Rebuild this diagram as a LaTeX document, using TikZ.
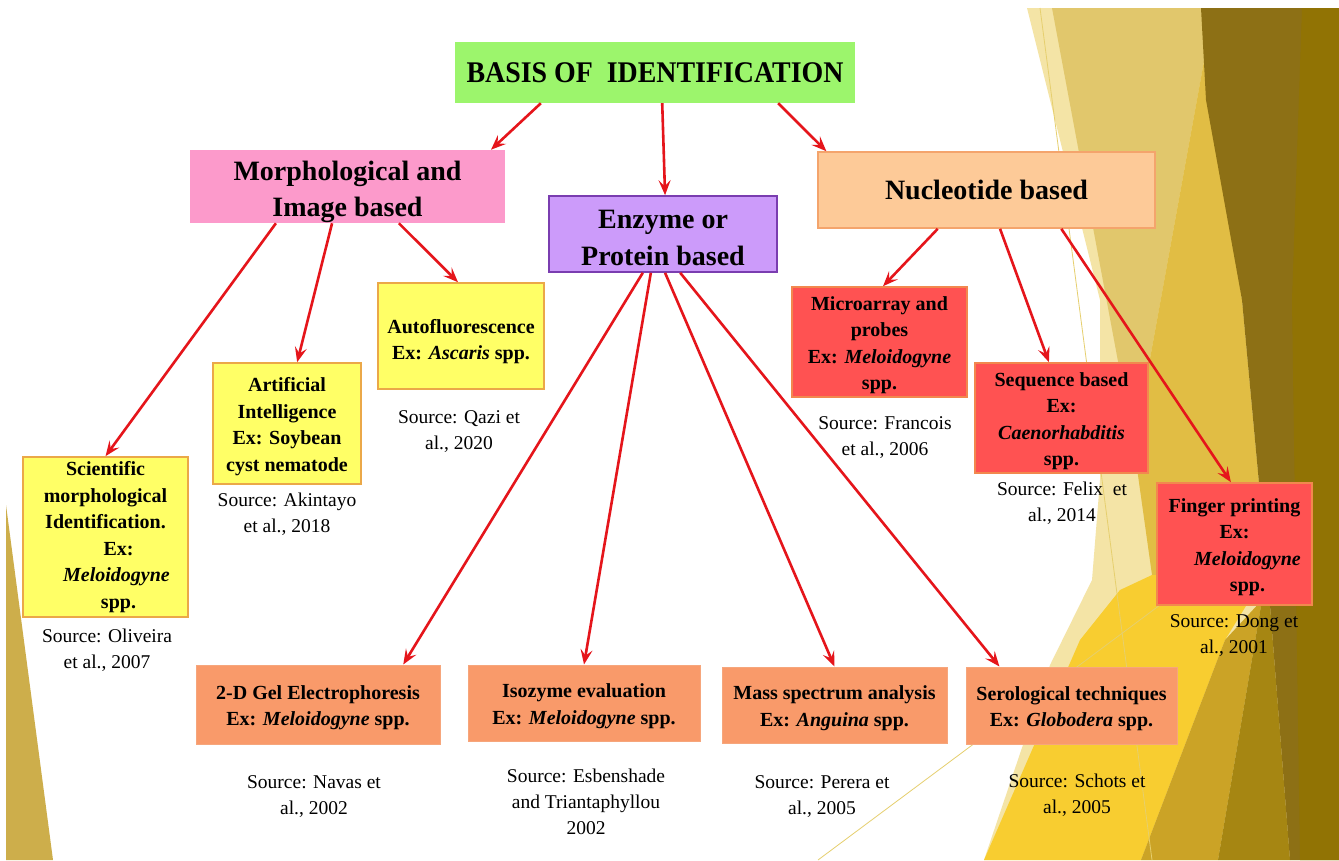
\documentclass[tikz,border=0pt]{standalone}
\usepackage{fontspec}
\setmainfont{Liberation Serif}
\usetikzlibrary{calc,arrows.meta}
\definecolor{tgreen}{HTML}{9CF56C}
\definecolor{tpink}{HTML}{FC9ACB}
\definecolor{tpurple}{HTML}{CC9BFA}
\definecolor{tpurpleE}{HTML}{7A3DB0}
\definecolor{tpeach}{HTML}{FDCA98}
\definecolor{tpeachE}{HTML}{F4A46C}
\definecolor{tyellow}{HTML}{FFFF66}
\definecolor{tyellowE}{HTML}{EBA848}
\definecolor{tred}{HTML}{FF5252}
\definecolor{tredE}{HTML}{F2884E}
\definecolor{torange}{HTML}{F99A6A}
\definecolor{torangeE}{HTML}{F6A67C}
\definecolor{tarrow}{HTML}{E5151B}
\definecolor{bgpale}{HTML}{F4E4A6}
\definecolor{bgtan}{HTML}{E1C76C}
\definecolor{bgyel}{HTML}{E1BD44}
\definecolor{bgbright}{HTML}{F8CD30}
\definecolor{bggold}{HTML}{CBA326}
\definecolor{bgdarker}{HTML}{A68612}
\definecolor{bgdark}{HTML}{8D7015}
\definecolor{bgdarkest}{HTML}{917304}
\definecolor{bgleft}{HTML}{CDAE4B}
\definecolor{bgline}{HTML}{E6CF6E}
\newcommand{\FirstStrut}[1][1em]{\rule{0pt}{#1}}
\begin{document}
\begin{tikzpicture}[x=1pt,y=-1pt,
  bx/.style={rectangle, inner sep=0pt, align=center, text=black,
    font=\fontsize{20}{26.5}\selectfont\bfseries},
  ybox/.style={bx, fill=tyellow, draw=tyellowE, line width=1.6pt},
  rbox/.style={bx, fill=tred, draw=tredE, line width=1.6pt},
  obox/.style={bx, fill=torange, draw=torangeE, line width=1pt},
  lvl/.style={rectangle, inner sep=0pt, align=center, text=black,
    font=\fontsize{28}{36}\selectfont\bfseries},
  src/.style={align=center, inner sep=0pt, text=black,
    font=\fontsize{19.5}{26}\selectfont},
  arr/.style={draw=tarrow, line width=2.6pt,
    -{Stealth[length=15pt,width=12pt,inset=6pt]}}
]
\useasboundingbox (0,0) rectangle (1339,860);
\fill[white] (0,0) rectangle (1339,860);

% background facets
\fill[bgpale] (1027,8) -- (1339,8) -- (1339,860) -- (984,860) -- (1050,665)
  -- (1092,580) -- (1100,480) -- (1100,300) -- cycle;
\fill[bgtan] (1052,8) -- (1201,8) -- (1206,50) -- (1134,447) -- cycle;
\fill[bgyel] (1206,50) -- (1242,300) -- (1268,580) -- (1152,575) -- (1134,447) -- cycle;
\fill[bgbright] (984,860) -- (1141,860) -- (1225,640) -- (1265,575) -- (1152,575)
  -- (1120,590) -- (1080,640) -- cycle;
\fill[bggold] (1141,860) -- (1218,860) -- (1262,600) -- (1225,640) -- cycle;
\fill[bgdarker] (1218,860) -- (1290,860) -- (1268,580) -- (1262,600) -- cycle;
\fill[bgdark] (1201,8) -- (1339,8) -- (1339,860) -- (1290,860) -- (1268,580)
  -- (1242,300) -- (1206,100) -- cycle;
\fill[bgdarkest] (1302,8) -- (1339,8) -- (1339,860) -- (1300,860) -- (1292,300) -- cycle;
\draw[bgline, line width=0.8pt] (1040,8) -- (1152,860);
\draw[bgline, line width=0.8pt] (818,860) -- (1160,605);
\fill[bgleft] (6,505) -- (53,860) -- (6,860) -- cycle;

% top
\node[lvl, fill=tgreen, minimum width=400pt, minimum height=61pt,
  font=\fontsize{30}{36}\selectfont\bfseries] (title) at (655,72.5)
  {\scalebox{0.93}[1]{BASIS OF\ \ IDENTIFICATION}};

% level 1
\node[lvl, fill=tpink, minimum width=315pt, minimum height=73pt] (morph) at (347.5,186.5)
  {\FirstStrut[31pt]Morphological and\\Image based};
\node[lvl, fill=tpurple, draw=tpurpleE, line width=1.6pt, minimum width=228pt,
  minimum height=76pt, font=\fontsize{28}{37}\selectfont\bfseries] (enz) at (663,234)
  {\FirstStrut[27pt]Enzyme or\\Protein based};
\node[lvl, fill=tpeach, draw=tpeachE, line width=1.6pt, minimum width=337pt,
  minimum height=76pt] (nuc) at (986.5,190) {Nucleotide based};

% level 2, morphological
\node[ybox, minimum width=165pt, minimum height=160pt] (sci) at (105.5,537)
  {Scientific\\morphological\\Identification.\\\hspace*{26pt}Ex:\\
   \hspace*{22pt}\textit{Meloidogyne}\\\hspace*{26pt}spp.};
\node[ybox, minimum width=148pt, minimum height=121pt] (ai) at (287,423.5)
  {\FirstStrut Artificial\\Intelligence\\Ex: Soybean\\cyst nematode};
\node[ybox, minimum width=166pt, minimum height=106pt] (auto) at (461,336)
  {\FirstStrut[1.25em]Autofluorescence\\Ex: \textit{Ascaris} spp.};

% level 2, nucleotide
\node[rbox, minimum width=175pt, minimum height=110pt] (micro) at (879.5,342)
  {\FirstStrut Microarray and\\probes\\Ex: \textit{Meloidogyne}\\spp.};
\node[rbox, minimum width=173pt, minimum height=110pt] (seq) at (1061.5,418)
  {\FirstStrut Sequence based\\Ex:\\\textit{Caenorhabditis}\\spp.};
\node[rbox, minimum width=155pt, minimum height=122pt] (finger) at (1234.5,544)
  {\FirstStrut Finger printing\\Ex:\\\hspace*{26pt}\textit{Meloidogyne}\\\hspace*{26pt}spp.};

% level 2, enzyme
\node[obox, minimum width=244pt, minimum height=79pt] (gel) at (318,704.5)
  {\FirstStrut 2-D Gel Electrophoresis\\Ex: \textit{Meloidogyne} spp.};
\node[obox, minimum width=232pt, minimum height=76pt] (iso) at (584,703)
  {\FirstStrut Isozyme evaluation\\Ex: \textit{Meloidogyne} spp.};
\node[obox, minimum width=225pt, minimum height=76pt] (mass) at (834.5,705)
  {\FirstStrut Mass spectrum analysis\\Ex: \textit{Anguina} spp.};
\node[obox, minimum width=211pt, minimum height=77pt] (sero) at (1071.5,705.5)
  {\FirstStrut Serological techniques\\Ex: \textit{Globodera} spp.};

% sources
\node[src] (s1) at (107,650) {Source: Oliveira\\et al., 2007};
\node[src] (s2) at (287,514) {Source: Akintayo\\et al., 2018};
\node[src] (s3) at (459,431.5) {Source: Qazi et\\al., 2020};
\node[src] (s4) at (885,437.5) {Source: Francois\\et al., 2006};
\node[src] (s5) at (1062,503.5) {Source: Felix\ \ et\\al., 2014};
\node[src] (s6) at (1234,635.5) {Source: Dong et\\al., 2001};
\node[src] (s7) at (314,796.5) {Source: Navas et\\al., 2002};
\node[src] (s8) at (586,801.5) {Source: Esbenshade\\and Triantaphyllou\\2002};
\node[src] (s9) at (822,796.5) {Source: Perera et\\al., 2005};
\node[src] (s10) at (1077,795.5) {Source: Schots et\\al., 2005};

% connectors
\draw[arr] ($(title.south west)!0.215!(title.south east)$) -- ($(morph.north west)!0.955!(morph.north east)$);
\draw[arr] ($(title.south west)!0.518!(title.south east)$) -- ($(enz.north west)!0.509!(enz.north east)$);
\draw[arr] ($(title.south west)!0.8075!(title.south east)$) -- ($(nuc.north west)!0.027!(nuc.north east)$);
\draw[arr] ($(morph.south west)!0.273!(morph.south east)$) -- (sci.north);
\draw[arr] ($(morph.south west)!0.451!(morph.south east)$) -- ($(ai.north west)!0.568!(ai.north east)$);
\draw[arr] ($(morph.south west)!0.663!(morph.south east)$) -- ($(auto.north west)!0.482!(auto.north east)$);
\draw[arr] ($(enz.south west)!0.412!(enz.south east)$) -- ($(gel.north west)!0.848!(gel.north east)$);
\draw[arr] ($(enz.south west)!0.447!(enz.south east)$) -- (iso.north);
\draw[arr] ($(enz.south west)!0.509!(enz.south east)$) -- (mass.north);
\draw[arr] ($(enz.south west)!0.575!(enz.south east)$) -- ($(sero.north west)!0.16!(sero.north east)$);
\draw[arr] ($(nuc.south west)!0.356!(nuc.south east)$) -- ($(micro.north west)!0.52!(micro.north east)$);
\draw[arr] ($(nuc.south west)!0.54!(nuc.south east)$) -- ($(seq.north west)!0.428!(seq.north east)$);
\draw[arr] ($(nuc.south west)!0.721!(nuc.south east)$) -- ($(finger.north west)!0.477!(finger.north east)$);
\end{tikzpicture}
\end{document}
